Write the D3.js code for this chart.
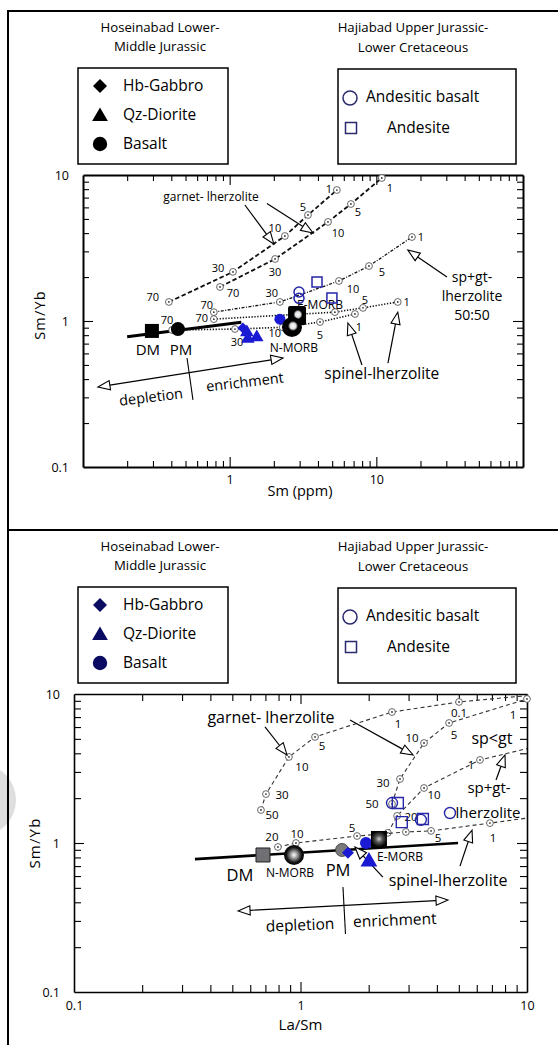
<!DOCTYPE html>
<html><head><meta charset="utf-8">
<script src="https://cdn.jsdelivr.net/npm/d3@7/dist/d3.min.js"></script>
<style>html,body{margin:0;padding:0;background:#fff}svg{display:block}</style>
</head><body>
<svg id="chart" width="558" height="1045"></svg>
<script>
// ================= DATA =================
const topXDomain=[0.1,100], topYDomain=[0.1,10];
const botXDomain=[0.1,10],  botYDomain=[0.1,10];
const topXTickLabels=["1","10"];
const topYTickLabels=["0.1","1","10"];
const botXTickLabels=["0.1","1","10"];
const botYTickLabels=["0.1","1","10"];
const titleLeft=["Hoseinabad Lower-","Middle Jurassic"];
const titleRight=["Hajiabad Upper Jurassic-","Lower Cretaceous"];
const legendLeft=["Hb-Gabbro","Qz-Diorite","Basalt"];
const legendRight=["Andesitic basalt","Andesite"];
const topXTitle="Sm (ppm)", botXTitle="La/Sm", yTitle="Sm/Yb";

// ---- top panel: Sm (ppm) vs Sm/Yb ----
const topMainLine=[[0.2,0.78],[1.2,0.98]];
const topGarnetA=[[0.385,1.35,"70"],[1.053,2.17,"30"],[2.38,3.82,"10"],[3.42,5.32,"5"],[5.38,7.89,"1"]];
const topGarnetB=[[0.859,1.71,"70"],[2.04,2.66,"30"],[4.68,4.77,"10"],[6.71,6.33,"5"],[10.9,9.54,"1"]];
const topSpGt=[[0.78,1.15,"70"],[2.2,1.35,"30"],[5.56,1.88,"10"],[8.91,2.38,"5"],[17.5,3.76,"1"]];
const topSpinelA=[[0.78,1.03,"70"],[5.22,1.15,""],[8.11,1.23,"5"],[14.0,1.35,"1"]];
const topSpinelB=[[0.405,0.867,"70"],[1.087,0.881,"30"],[2.3,0.905,"10"],[4.13,0.984,"5"],[7.15,1.117,"1"]];
const topHbGabbro=[[1.23,0.895]];
const topQzDiorite=[[1.31,0.855],[1.53,0.789],[1.33,0.77]];
const topBasalt=[[2.2,1.03]];
const topAndBasalt=[[2.97,1.58],[2.97,1.43]];
const topAndesite=[[3.94,1.85],[4.98,1.44]];
const topDM=[0.295,0.855], topPM=[0.444,0.88], topEMORB=[2.88,1.1], topNMORB=[2.66,0.91];
const topRefLabels=[["DM",0.277,0.633],["PM",0.466,0.633],["N-MORB",2.74,0.653],["E-MORB",4.13,1.288]];
const topTexts=[["garnet- lherzolite",0.746,7.07],["spinel-lherzolite",10.9,0.434],["sp+gt-",44.9,2.0],["lherzolite",44.9,1.47],["50:50",44.9,1.09]];
const topArrows=[[[1.27,6.23],[2.0,3.37]],[[1.795,6.37],[3.7,4.01]],[[30.3,2.0],[16.4,3.06]],[[7.98,0.5],[6.4,0.969]],[[12.0,0.515],[14.0,1.15]]];
const topTrend=[[0.1265,0.353],[2.31,0.558]];
const topTrendDivider=[[0.512,0.558],[0.562,0.288]];
const topTrendTexts=[["depletion",0.291,0.302],["enrichment",1.27,0.382]];

// ---- bottom panel: La/Sm vs Sm/Yb ----
const botMainLine=[[0.342,0.78],[4.96,1.0]];
const botGarnetA=[[0.669,1.665,"50"],[0.704,2.13,"30"],[0.889,3.78,"10"],[1.159,5.15,"5"],[2.535,7.57,"1"],[5.01,8.84,"0.1"],[10,9.75,null]];
const botGarnetB=[[2.535,1.83,"50"],[2.75,2.69,"30"],[3.51,4.69,"10"],[4.53,6.39,"5"],[10,9.26,"1"]];
const botSpGt=[[2.43,1.17,""],[2.67,1.52,"20"],[3.51,2.34,"10"],[6.2,3.61,"1"],[10,4.3,null]];
const botSpinel=[[0.795,0.94,"20"],[0.955,1.0,"10"],[1.777,1.114,"5"],[2.92,1.186,""],[3.77,1.205,"5"],[6.86,1.36,"1"],[10,1.47,null]];
const botHbGabbro=[[1.62,0.86]];
const botQzDiorite=[[2.005,0.769]];
const botBasalt=[[1.946,1.0]];
const botAndBasalt=[[2.535,1.855],[3.4,1.43],[4.57,1.59]];
const botAndesite=[[2.69,1.855],[2.8,1.38],[3.47,1.45]];
const botDM=[0.683,0.831], botNMORB=[0.936,0.831], botPM=[1.525,0.898], botEMORB=[2.22,1.064];
const botRefLabels=[["DM",0.54,0.61],["N-MORB",0.899,0.629],["PM",1.465,0.659],["E-MORB",2.75,0.805]];
const botTexts=[["garnet- lherzolite",0.741,7.01],["sp<gt",7.0,5.07],["sp+gt-",6.8,2.36],["lherzolite",6.73,1.6],["spinel-lherzolite",4.48,0.565]];
const botArrows=[[[0.697,6.01],[0.872,3.9]],[[1.654,6.69],[3.14,3.9]],[[7.3,2.65],[8.0,3.9]],[[2.31,0.591],[1.74,0.94]],[[5.06,0.70],[5.72,1.22]]];
const botTrend=[[0.53,0.35],[4.48,0.414]];
const botTrendDivider=[[1.54,0.507],[1.58,0.245]];
const botTrendTexts=[["depletion",0.995,0.282],["enrichment",2.61,0.304]];

// ================= STYLE / LAYOUT =================
const FONT='"Open Sans","Noto Sans",sans-serif';
const BLUE="#1a1ad2", OPENBLUE="#2626a8";
const svg=d3.select("#chart");
const defs=svg.append("defs");
function radial(id,cx,cy,r,stops){const gr=defs.append("radialGradient").attr("id",id).attr("cx",cx).attr("cy",cy).attr("r",r);
  stops.forEach(s=>gr.append("stop").attr("offset",s[0]).attr("stop-color",s[1]));}
radial("sphB","50%","50%","55%",[["0%","#ffffff"],["30%","#a0a0a0"],["70%","#111"],["100%","#000"]]);
radial("sqB","50%","50%","60%",[["0%","#cfcfcf"],["35%","#5a5a5a"],["80%","#050505"],["100%","#000"]]);
radial("sphT","55%","45%","50%",[["0%","#ffffff"],["30%","#dddddd"],["50%","#000"],["100%","#000"]]);

// watermark blob & frame
svg.append("circle").attr("cx",-20).attr("cy",800).attr("r",36).attr("fill","#dedede");
svg.append("rect").attr("x",8).attr("y",11).attr("width",560).attr("height",1045).attr("fill","none").attr("stroke","#000").attr("stroke-width",2);
svg.append("line").attr("x1",8).attr("x2",558).attr("y1",530).attr("y2",530).attr("stroke","#000").attr("stroke-width",2);

const shapes={
  diamond:s=>`M0,${-s}L${s},0L0,${s}L${-s},0Z`,
  triangle:s=>`M0,${-s}L${s*1.05},${s*0.8}L${-s*1.05},${s*0.8}Z`,
  square:s=>`M${-s},${-s}H${s}V${s}H${-s}Z`,
  circle:s=>`M${-s},0A${s},${s} 0 1,0 ${s},0A${s},${s} 0 1,0 ${-s},0Z`
};
function txt(g,x,y,t,size,anchor,extra){
  const e=g.append("text").attr("x",x).attr("y",y).attr("dy","0.35em").attr("text-anchor",anchor||"middle")
    .attr("font-family",FONT).attr("font-size",size).attr("fill","#000").text(t);
  if(extra) extra(e); return e;
}
function decadeTicks([a,b]){
  const t=[a];
  for(let k=Math.round(Math.log10(a));k<Math.round(Math.log10(b));k++)
    for(let m=1;m<10;m++){const v=+(m*Math.pow(10,k)).toPrecision(6); if(v>a&&v<b) t.push(v);}
  t.push(b); return t;
}
const isMajor=v=>Math.abs(Math.log10(v)-Math.round(Math.log10(v)))<1e-6;

function drawAxes(g,x,y,c){
  const xt=decadeTicks(x.domain()), yt=decadeTicks(y.domain());
  const [xa,xb]=x.range(), [ya,yb]=y.range();
  const xd=x.domain(), yd=y.domain();
  const isEnd=(v,d)=>Math.abs(v-d[0])<1e-9||Math.abs(v-d[1])<1e-9;
  function style(sel,dom,vert){
    sel.attr("font-family",FONT).attr("font-size",c.tickFont);
    sel.select(".domain").attr("stroke","#000").attr("stroke-width",c.axisW);
    sel.selectAll(".tick line").attr("stroke","#000").attr("stroke-width",1.1)
      .each(function(d){const L=isEnd(d,dom)?0:(isMajor(d)?c.major:c.minor); d3.select(this).attr(vert?"x2":"y2",vert?(this.getAttribute("x2")<0?-L:L):(this.getAttribute("y2")<0?-L:L));});
    sel.selectAll(".tick text").attr("fill","#000");
  }
  const fx=v=>c.xLabels.includes(String(v))?String(v):"";
  const fy=v=>c.yLabels.includes(String(v))?String(v):"";
  style(g.append("g").attr("transform",`translate(0,${ya})`).call(d3.axisBottom(x).tickValues(xt).tickSizeInner(-6).tickSizeOuter(0).tickPadding(c.xPad).tickFormat(fx)),xd,false);
  style(g.append("g").attr("transform",`translate(0,${yb})`).call(d3.axisTop(x).tickValues(xt).tickSizeInner(-6).tickSizeOuter(0).tickFormat("")),xd,false);
  style(g.append("g").attr("transform",`translate(${xa},0)`).call(d3.axisLeft(y).tickValues(yt).tickSizeInner(-6).tickSizeOuter(0).tickPadding(c.yPad).tickFormat(fy)),yd,true);
  style(g.append("g").attr("transform",`translate(${xb},0)`).call(d3.axisRight(y).tickValues(yt).tickSizeInner(-6).tickSizeOuter(0).tickFormat("")),yd,true);
  txt(g,(xa+xb)/2+c.xTitleDx,ya+c.xTitleDy,c.xTitle,c.titleFont);
  txt(g,c.yTitleX,(ya+yb)/2+c.yTitleDy,c.yTitle,c.titleFont,"middle",e=>e.attr("transform",`rotate(-90,${c.yTitleX},${(ya+yb)/2+c.yTitleDy})`).attr("letter-spacing",1.2));
}
function drawCurve(g,x,y,pts,offs,st){
  g.append("path").attr("d",d3.line().x(d=>x(d[0])).y(d=>y(d[1]))(pts)).attr("fill","none")
    .attr("stroke",st.color).attr("stroke-width",st.w).attr("stroke-dasharray",st.dash);
  pts.forEach((p,i)=>{
    if(p[2]===null) return;
    const cx=x(p[0]),cy=y(p[1]);
    g.append("circle").attr("cx",cx).attr("cy",cy).attr("r",st.mr).attr("fill","#fff").attr("stroke","#555").attr("stroke-width",0.9);
    g.append("circle").attr("cx",cx).attr("cy",cy).attr("r",0.9).attr("fill","#333");
    if(p[2]) txt(g,cx+offs[i][0],cy+offs[i][1],p[2],st.lf);
  });
}
function points(g,x,y,data,type,s,fill,stroke,sw){
  g.selectAll(null).data(data).join("path").attr("d",shapes[type](s))
    .attr("transform",d=>`translate(${x(d[0])},${y(d[1])})`)
    .attr("fill",fill).attr("stroke",stroke||"none").attr("stroke-width",sw||0);
}
function arrow(g,p0,p1,both){
  const L=12,W=4.6;
  const dx=p1[0]-p0[0],dy=p1[1]-p0[1],len=Math.hypot(dx,dy),ux=dx/len,uy=dy/len;
  const head=(t,ux,uy)=>{const bx=t[0]-ux*L,by=t[1]-uy*L;return [[t[0],t[1]],[bx-uy*W,by+ux*W],[bx+uy*W,by-ux*W]];};
  const a=both?[p0[0]+ux*L,p0[1]+uy*L]:p0, b=[p1[0]-ux*L,p1[1]-uy*L];
  g.append("line").attr("x1",a[0]).attr("y1",a[1]).attr("x2",b[0]).attr("y2",b[1]).attr("stroke","#000").attr("stroke-width",1.2);
  const heads=[head(p1,ux,uy)]; if(both) heads.push(head(p0,-ux,-uy));
  heads.forEach(h=>g.append("polygon").attr("points",h.map(q=>q.join(",")).join(" ")).attr("fill","#fff").attr("stroke","#000").attr("stroke-width",1.1).attr("stroke-linejoin","miter"));
}
function legends(oy,mark){
  const g=svg.append("g");
  txt(g,160,27+oy,titleLeft[0],13.2); txt(g,160,46+oy,titleLeft[1],13.2);
  txt(g,413,27+oy,titleRight[0],13.2); txt(g,413,47+oy,titleRight[1],13.2);
  g.append("rect").attr("x",78).attr("y",68+oy).attr("width",150).attr("height",96).attr("fill","#fff").attr("stroke","#000").attr("stroke-width",1.5);
  g.append("rect").attr("x",338).attr("y",69+oy).attr("width",178).attr("height",95).attr("fill","#fff").attr("stroke","#000").attr("stroke-width",1.5);
  const types=["diamond","triangle","circle"], sz=[7,7.5,7.2], ly=[86,115,144];
  types.forEach((t,i)=>{g.append("path").attr("d",shapes[t](sz[i])).attr("transform",`translate(100,${ly[i]+oy})`).attr("fill",mark);
    txt(g,123,ly[i]+oy,legendLeft[i],15.5,"start");});
  g.append("path").attr("d",shapes.circle(7)).attr("transform",`translate(350,${98+oy})`).attr("fill","none").attr("stroke","#2a2a6e").attr("stroke-width",1.5);
  txt(g,366,97+oy,legendRight[0],15.5,"start");
  g.append("path").attr("d",shapes.square(5.5)).attr("transform",`translate(351,${128+oy})`).attr("fill","none").attr("stroke","#2a2a6e").attr("stroke-width",1.5);
  txt(g,387,128+oy,legendRight[1],15.5,"start");
}
function annotations(g,x,y,texts,tf,arrows,trend,divider,trendTexts,trf){
  texts.forEach((t,i)=>txt(g,x(t[1]),y(t[2]),t[0],tf[i]));
  arrows.forEach(a=>arrow(g,[x(a[0][0]),y(a[0][1])],[x(a[1][0]),y(a[1][1])],false));
  const p0=[x(trend[0][0]),y(trend[0][1])],p1=[x(trend[1][0]),y(trend[1][1])];
  arrow(g,p0,p1,true);
  g.append("line").attr("x1",x(divider[0][0])).attr("y1",y(divider[0][1])).attr("x2",x(divider[1][0])).attr("y2",y(divider[1][1])).attr("stroke","#000").attr("stroke-width",1.1);
  const ang=Math.atan2(p1[1]-p0[1],p1[0]-p0[0])*180/Math.PI*0.75;
  trendTexts.forEach(t=>{const cx=x(t[1]),cy=y(t[2]); txt(g,cx,cy,t[0],trf,"middle",e=>e.attr("transform",`rotate(${ang},${cx},${cy})`));});
}

// ================= TOP PANEL =================
legends(0,"#000");
{
  const x=d3.scaleLog().domain(topXDomain).range([83,523]);
  const y=d3.scaleLog().domain(topYDomain).range([467,175]);
  const g=svg.append("g");
  drawAxes(g,x,y,{xLabels:topXTickLabels,yLabels:topYTickLabels,tickFont:12.5,axisW:2,minor:6,major:10,xPad:8,yPad:14,
    xTitle:topXTitle,xTitleDx:-3,xTitleDy:24,yTitle:yTitle,yTitleX:40,yTitleDy:-6,titleFont:14.5});
  const gar={color:"#111",w:1.8,dash:"4.5,2.5",mr:3.4,lf:11};
  drawCurve(g,x,y,topGarnetA,[[-16,-5],[-15,-4],[-10,-8],[-5,-8],[-8,-1]],gar);
  drawCurve(g,x,y,topGarnetB,[[13,6],[0,13],[10,11],[7,8],[8,10]],gar);
  drawCurve(g,x,y,topSpGt,[[-7,-7],[-8,-9],[14,8],[13,6],[9,0]],{color:"#111",w:1.3,dash:"3,1.5,1,1.5",mr:3.4,lf:11});
  const spn={color:"#111",w:1.6,dash:"1.3,1.6",mr:3.4,lf:11};
  drawCurve(g,x,y,topSpinelA,[[-12,-1],[0,0],[2,-8],[9,0]],spn);
  g.append("path").attr("d",d3.line().x(d=>x(d[0])).y(d=>y(d[1]))(topMainLine)).attr("stroke","#000").attr("stroke-width",3).attr("fill","none");
  drawCurve(g,x,y,topSpinelB,[[-5,-10],[2,13],[-8,6],[0,13],[4,13]],spn);
  annotations(g,x,y,topTexts,[12,15.5,14,14,14],topArrows,topTrend,topTrendDivider,topTrendTexts,14.5);
  topRefLabels.forEach(r=>txt(g,x(r[1]),y(r[2]),r[0],r[0].length>2?12:15));
  points(g,x,y,topHbGabbro,"diamond",5.5,BLUE);
  points(g,x,y,topQzDiorite,"triangle",6.5,BLUE);
  points(g,x,y,topBasalt,"circle",5.5,BLUE);
  // reference compositions
  g.append("path").attr("d",shapes.square(7)).attr("transform",`translate(${x(topDM[0])},${y(topDM[1])})`).attr("fill","#000");
  g.append("path").attr("d",shapes.circle(7)).attr("transform",`translate(${x(topPM[0])},${y(topPM[1])})`).attr("fill","#000");
  g.append("rect").attr("x",x(topEMORB[0])-9).attr("y",y(topEMORB[1])-9).attr("width",18).attr("height",19).attr("rx",2).attr("fill","url(#sphT)");
  g.append("circle").attr("cx",x(topNMORB[0])).attr("cy",y(topNMORB[1])).attr("r",10).attr("fill","url(#sphT)");
  points(g,x,y,topAndBasalt,"circle",5,"none",OPENBLUE,1.5);
  points(g,x,y,topAndesite,"square",5,"none",OPENBLUE,1.5);
}

// ================= BOTTOM PANEL =================
legends(519,"#0b0b62");
{
  const x=d3.scaleLog().domain(botXDomain).range([74,527]);
  const y=d3.scaleLog().domain(botYDomain).range([992,694]);
  const g=svg.append("g");
  drawAxes(g,x,y,{xLabels:botXTickLabels,yLabels:botYTickLabels,tickFont:12.5,axisW:1.6,minor:7,major:10,xPad:9,yPad:14,
    xTitle:botXTitle,xTitleDx:0,xTitleDy:33,yTitle:yTitle,yTitleX:35,yTitleDy:0,titleFont:15});
  const bst={color:"#333",w:1.1,dash:"4,3",mr:3.4,lf:11.5};
  drawCurve(g,x,y,botGarnetA,[[11,5],[16,1],[13,10],[7,9],[6,12],[0,11],[0,0]],bst);
  drawCurve(g,x,y,botGarnetB,[[-20,0],[-17,4],[-12,-5],[5,12],[-14,16]],bst);
  drawCurve(g,x,y,botSpGt,[[0,0],[14,1],[10,7],[-9,5],[0,0]],bst);
  drawCurve(g,x,y,botSpinel,[[-6,-10],[1,-9],[-5,-8],[0,0],[7,7],[3,15],[0,0]],bst);
  g.append("path").attr("d",d3.line().x(d=>x(d[0])).y(d=>y(d[1]))(botMainLine)).attr("stroke","#000").attr("stroke-width",2.6).attr("fill","none");
  annotations(g,x,y,botTexts,[16,16,15,15,16],botArrows,botTrend,botTrendDivider,botTrendTexts,15.5);
  botRefLabels.forEach(r=>txt(g,x(r[1]),y(r[2]),r[0],r[0].length>2?12:16.5));
  g.append("path").attr("d",shapes.square(7)).attr("transform",`translate(${x(botDM[0])},${y(botDM[1])})`).attr("fill","#6f6f74").attr("stroke","#222").attr("stroke-width",1);
  g.append("circle").attr("cx",x(botNMORB[0])).attr("cy",y(botNMORB[1])).attr("r",10).attr("fill","url(#sphB)");
  g.append("circle").attr("cx",x(botPM[0])).attr("cy",y(botPM[1])).attr("r",6.5).attr("fill","#7a7a7a").attr("stroke","#333").attr("stroke-width",0.8);
  points(g,x,y,botHbGabbro,"diamond",6,BLUE);
  points(g,x,y,botBasalt,"circle",6,BLUE);
  g.append("rect").attr("x",x(botEMORB[0])-8).attr("y",y(botEMORB[1])-8).attr("width",16).attr("height",16).attr("fill","url(#sqB)");
  points(g,x,y,botQzDiorite,"triangle",8,BLUE);
  points(g,x,y,botAndBasalt,"circle",5.5,"none",OPENBLUE,1.4);
  points(g,x,y,botAndesite,"square",5.5,"none",OPENBLUE,1.4);
}
</script>
</body></html>
